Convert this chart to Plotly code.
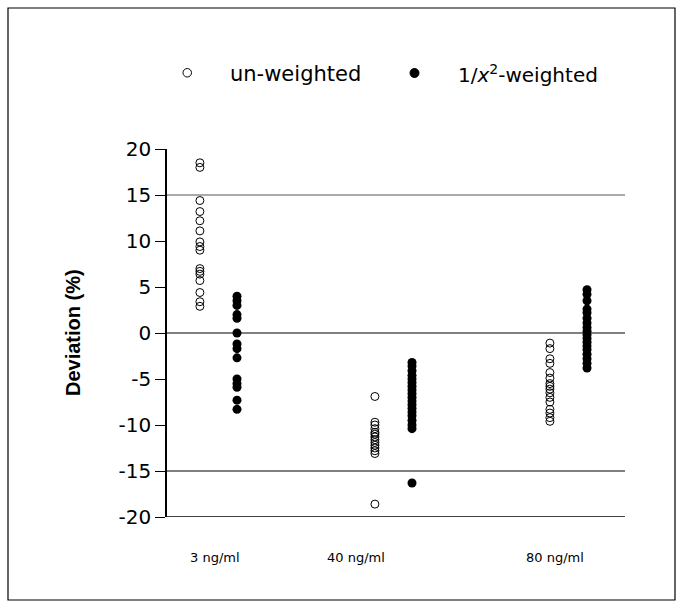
import plotly.graph_objects as go

# Concentration levels (x categories)
levels = ["3 ng/ml", "40 ng/ml", "80 ng/ml"]

# Relative deviation (%) of back-calculated concentrations, per level
unweighted_3 = [18.5, 18.0, 14.4, 13.2, 12.2, 11.1, 9.9, 9.4, 9.0, 7.0, 6.7, 6.4, 5.7, 4.4, 3.4, 2.9]
unweighted_40 = [-6.9, -9.7, -10.0, -10.4, -10.8, -11.0, -11.3, -11.6, -11.9, -12.2, -12.5, -12.8, -13.1, -18.6]
unweighted_80 = [-1.1, -1.7, -2.8, -3.3, -4.3, -4.9, -5.5, -5.8, -6.1, -6.5, -7.0, -7.5, -8.3, -8.7, -9.2, -9.6]

weighted_3 = [4.0, 3.5, 3.0, 2.0, 1.6, 0.0, -1.2, -1.7, -2.7, -5.0, -5.5, -5.9, -7.3, -8.3]
weighted_40 = [-3.2, -3.6, -4.1, -4.6, -5.0, -5.4, -5.8, -6.2, -6.6, -7.0, -7.4, -7.8, -8.2, -8.6,
               -9.0, -9.5, -10.0, -10.4, -16.3]
weighted_80 = [4.7, 4.2, 3.5, 2.6, 2.2, 1.6, 1.1, 0.6, 0.2, -0.2, -0.6, -1.0, -1.4, -1.8,
               -2.3, -2.8, -3.3, -3.8]

# Acceptance limits and reference line
ref_lines = [15, 0, -15]

# y-axis ticks
y_ticks = [20, 15, 10, 5, 0, -5, -10, -15, -20]
y_tick_text = ["20", "15", "10", "5", "0", "-5", "-10", "-15", "-20"]

unweighted = [unweighted_3, unweighted_40, unweighted_80]
weighted = [weighted_3, weighted_40, weighted_80]

OFFSET = 0.106
WIDE = "DejaVu Sans"
NARROW = "Arial, Liberation Sans"

def column(groups, shift):
    xs, ys = [], []
    for i, vals in enumerate(groups):
        xs += [i + shift] * len(vals)
        ys += vals
    return xs, ys

ux, uy = column(unweighted, -OFFSET)
wx, wy = column(weighted, OFFSET)

fig = go.Figure()

fig.add_trace(go.Scatter(
    x=ux, y=uy, mode="markers", name="un-weighted",
    marker=dict(symbol="circle-open", size=8, color="black", line=dict(width=1, color="black")),
))
fig.add_trace(go.Scatter(
    x=wx, y=wy, mode="markers", name="1/x²-weighted",
    marker=dict(symbol="circle", size=9, color="black"),
))

X0, X1 = -0.294, 2.323

for v in ref_lines:
    fig.add_shape(type="line", xref="x", yref="y", x0=X0, x1=X1, y0=v, y1=v,
                  line=dict(color="#555555" if v == 15 else "black", width=1.2))

# Bottom axis line
fig.add_shape(type="line", xref="x", yref="y", x0=X0, x1=X1, y0=-20, y1=-20,
              line=dict(color="black", width=1.5))

# Category labels below the plot (slightly left of each group's centre)
label_pos = [-0.02, 0.786, 1.923]
for lab, xp in zip(levels, label_pos):
    fig.add_annotation(x=xp, y=(517 - 557) / 368, xref="x", yref="paper", text=lab,
                       showarrow=False, yanchor="middle",
                       font=dict(family=WIDE, size=13, color="black"))

# Legend drawn as markers + text
fig.add_shape(type="circle", xref="paper", yref="paper",
              x0=(183 - 167) / 458, x1=(191.5 - 167) / 458,
              y0=(517 - 77) / 368, y1=(517 - 68.5) / 368,
              line=dict(color="black", width=1), fillcolor="white")
fig.add_shape(type="circle", xref="paper", yref="paper",
              x0=(410 - 167) / 458, x1=(419 - 167) / 458,
              y0=(517 - 77.5) / 368, y1=(517 - 68.5) / 368,
              line=dict(color="black", width=1), fillcolor="black")
fig.add_annotation(x=(228 - 167) / 458, y=(517 - 74) / 368, xref="paper", yref="paper",
                   text="un-weighted", showarrow=False, xanchor="left", yanchor="middle",
                   font=dict(family=WIDE, size=21, color="black"))
fig.add_annotation(x=(456 - 167) / 458, y=(517 - 74) / 368, xref="paper", yref="paper",
                   text="1/<i>x</i><sup>2</sup>-weighted", showarrow=False, xanchor="left",
                   yanchor="middle",
                   font=dict(family=WIDE, size=20, color="black"))

# y-axis title
fig.add_annotation(x=(60 - 167) / 458, y=0.5, xref="paper", yref="paper",
                   text="<b>Deviation (%)</b>", showarrow=False, textangle=-90,
                   font=dict(family=NARROW, size=20, color="black"))

# Outer frame
fig.add_shape(type="rect", xref="paper", yref="paper",
              x0=(8 - 167) / 458, x1=(675 - 167) / 458,
              y0=(517 - 600) / 368, y1=(517 - 8) / 368,
              line=dict(color="black", width=1.2))

fig.update_layout(
    width=682, height=608,
    margin=dict(l=167, r=57, t=149, b=91),
    paper_bgcolor="white", plot_bgcolor="white",
    showlegend=False,
    font=dict(family=WIDE, color="black"),
)
fig.update_xaxes(range=[X0, X1], showgrid=False, zeroline=False, showticklabels=False,
                 showline=False, ticks="")
fig.update_yaxes(range=[-20, 20], tickvals=y_ticks, ticktext=y_tick_text,
                 showgrid=False, zeroline=False,
                 showline=True, linecolor="black", linewidth=1.5, ticks="outside",
                 ticklen=10, tickwidth=1.2, tickcolor="black",
                 tickfont=dict(family=WIDE, size=20, color="black"))

fig.write_html("out.html")
